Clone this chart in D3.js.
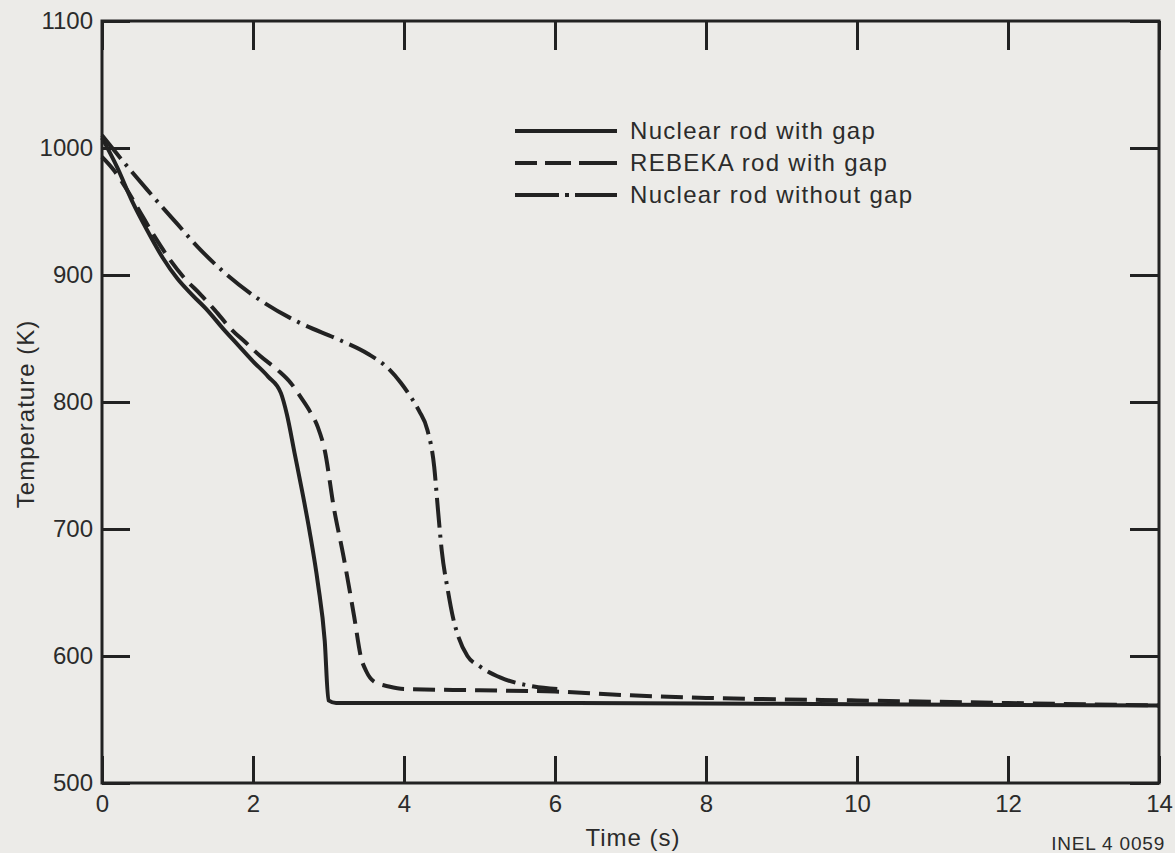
<!DOCTYPE html>
<html>
<head>
<meta charset="utf-8">
<script src="https://cdn.jsdelivr.net/npm/d3@7"></script>
<style>
  html, body { margin: 0; padding: 0; background: #ecebe8; }
  svg { display: block; }
  text { font-family: "Liberation Sans", Arial, Helvetica, sans-serif; fill: #2b2b2b; }
</style>
</head>
<body>
<svg id="chart" width="1175" height="853"></svg>
<script>
// ---- Data (time in s, temperature in K) ----
const seriesNames = ["Nuclear rod with gap", "REBEKA rod with gap", "Nuclear rod without gap"];

const nuclearWithGap = [
  [0, 1008], [0.2, 985], [0.4, 958], [0.6, 935], [0.8, 914], [1.0, 897], [1.2, 884],
  [1.4, 872], [1.6, 858], [1.8, 845], [2.0, 832], [2.2, 820], [2.37, 807], [2.45, 790],
  [2.55, 760], [2.65, 730], [2.75, 698], [2.86, 657], [2.95, 612], [3.0, 565], [3.1, 563],
  [6, 563], [10, 562], [14, 561]
];

const rebekaWithGap = [
  [0, 993], [0.15, 983], [0.3, 970], [0.5, 950], [0.7, 930], [0.9, 912], [1.1, 897],
  [1.3, 885], [1.5, 872], [1.7, 858], [1.9, 847], [2.1, 836], [2.33, 825], [2.5, 815],
  [2.63, 804], [2.75, 793], [2.86, 780], [2.95, 762], [3.07, 717], [3.2, 678], [3.34, 631],
  [3.43, 599], [3.5, 588], [3.6, 580], [3.8, 576], [4.0, 574], [5, 573], [6, 572],
  [7, 569], [8, 567], [10, 565], [12, 563], [14, 561]
];

const nuclearWithoutGap = [
  [0, 1010], [0.3, 988], [0.6, 967], [1.0, 940], [1.27, 922], [1.6, 903], [2.1, 880],
  [2.63, 862], [3.14, 849], [3.52, 838], [3.8, 826], [3.96, 815], [4.09, 804], [4.2, 793],
  [4.31, 778], [4.4, 749], [4.45, 715], [4.5, 683], [4.58, 652], [4.65, 630], [4.71, 617],
  [4.84, 600], [5.0, 592], [5.28, 583], [5.72, 576], [6.03, 574]
];

const xTicks = [0, 2, 4, 6, 8, 10, 12, 14];
const yTicks = [500, 600, 700, 800, 900, 1000, 1100];
const xTitle = "Time (s)";
const yTitle = "Temperature (K)";
const figureId = "INEL 4 0059";

// ---- Layout ----
const svg = d3.select("#chart");
const mLeft = 102, mRight = 1159, mTop = 21, mBottom = 783;
const ink = "#222";

const x = d3.scaleLinear().domain([0, 14]).range([mLeft, mRight]);
const y = d3.scaleLinear().domain([500, 1100]).range([mBottom, mTop]);

// frame
svg.append("rect")
  .attr("x", mLeft).attr("y", mTop)
  .attr("width", mRight - mLeft).attr("height", mBottom - mTop)
  .attr("fill", "none").attr("stroke", ink).attr("stroke-width", 3);

function styleAxis(g) {
  g.select(".domain").remove();
  g.selectAll(".tick line").attr("stroke", ink).attr("stroke-width", 3);
  g.selectAll(".tick text")
    .attr("fill", "#2b2b2b")
    .style("font-size", "24px")
    .style("font-family", "'Liberation Sans', Arial, sans-serif");
}

// bottom axis (labels) with inward ticks
svg.append("g")
  .attr("transform", `translate(0,${mBottom})`)
  .call(d3.axisBottom(x).tickValues(xTicks).tickFormat(d3.format("d"))
    .tickSizeInner(-27).tickSizeOuter(0).tickPadding(12))
  .call(styleAxis);

// top axis: ticks only
svg.append("g")
  .attr("transform", `translate(0,${mTop})`)
  .call(d3.axisTop(x).tickValues(xTicks).tickFormat(() => "")
    .tickSizeInner(-29).tickSizeOuter(0))
  .call(styleAxis);

// left axis with labels
svg.append("g")
  .attr("transform", `translate(${mLeft},0)`)
  .call(d3.axisLeft(y).tickValues(yTicks).tickFormat(d3.format("d"))
    .tickSizeInner(-28).tickSizeOuter(0).tickPadding(9))
  .call(styleAxis);

// right axis: ticks only
svg.append("g")
  .attr("transform", `translate(${mRight},0)`)
  .call(d3.axisRight(y).tickValues(yTicks).tickFormat(() => "")
    .tickSizeInner(-29).tickSizeOuter(0))
  .call(styleAxis);

// ---- Curves ----
const line = d3.line()
  .x(d => x(d[0]))
  .y(d => y(d[1]))
  .curve(d3.curveMonotoneX);

const styles = [
  { data: nuclearWithGap, dash: null },
  { data: rebekaWithGap, dash: "22 9" },
  { data: nuclearWithoutGap, dash: "30 7 3 7" }
];

styles.forEach(s => {
  svg.append("path")
    .datum(s.data)
    .attr("d", line)
    .attr("fill", "none")
    .attr("stroke", ink)
    .attr("stroke-width", 4)
    .attr("stroke-linejoin", "round")
    .attr("stroke-dasharray", s.dash);
});

// ---- Legend ----
const legend = svg.append("g");
const legendY = [131, 163, 195];
seriesNames.forEach((name, i) => {
  legend.append("line")
    .attr("x1", 515).attr("x2", 617)
    .attr("y1", legendY[i]).attr("y2", legendY[i])
    .attr("stroke", ink).attr("stroke-width", 4)
    .attr("stroke-dasharray", styles[i].dash === null ? null :
      (i === 1 ? "22 8 26 8 40" : "44 6 4 6 50"));
  legend.append("text")
    .attr("x", 630).attr("y", legendY[i])
    .attr("dy", "0.35em")
    .style("font-size", "24px")
    .style("letter-spacing", "1.3px")
    .text(name);
});

// ---- Titles ----
svg.append("text")
  .attr("x", 633).attr("y", 846)
  .attr("text-anchor", "middle")
  .style("font-size", "24px")
  .style("letter-spacing", "1px")
  .text(xTitle);

svg.append("text")
  .attr("transform", `translate(34,${414}) rotate(-90)`)
  .attr("text-anchor", "middle")
  .style("font-size", "24px")
  .style("letter-spacing", "1px")
  .text(yTitle);

svg.append("text")
  .attr("x", 1165).attr("y", 850)
  .attr("text-anchor", "end")
  .style("font-size", "19px")
  .style("letter-spacing", "0.8px")
  .text(figureId);
</script>
</body>
</html>
